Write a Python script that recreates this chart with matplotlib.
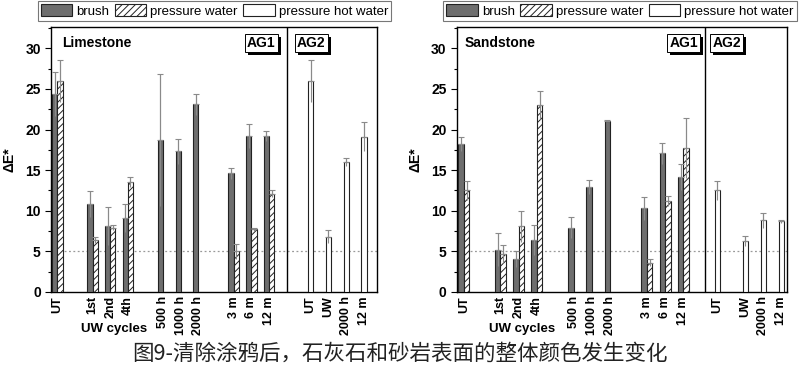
import numpy as np
import matplotlib
matplotlib.use("Agg")
import matplotlib.pyplot as plt
import matplotlib.patheffects as pe
from matplotlib.patches import Patch
from matplotlib.ticker import MultipleLocator

plt.rcParams['font.family'] = ['Liberation Sans', 'Noto Sans CJK SC', 'DejaVu Sans']
plt.rcParams['hatch.linewidth'] = 0.7

nan = np.nan

cats_ag1 = ['UT', '1st', '2nd', '4th', '500 h', '1000 h', '2000 h', '3 m', '6 m', '12 m']
cats_ag2 = ['UT', 'UW', '2000 h', '12 m']

# Limestone
lime_brush = [24.4, 10.8, 8.1, 9.1, 18.7, 17.3, 23.1, 14.6, 19.2, 19.2]
lime_brush_err = [2.7, 1.6, 2.3, 1.7, 8.1, 1.5, 1.3, 0.7, 1.5, 0.6]
lime_pw = [26.0, 6.4, 7.9, 13.5, nan, nan, nan, 5.0, 7.7, 12.1]
lime_pw_err = [2.6, 0.4, 0.3, 0.6, nan, nan, nan, 0.9, 0.2, 0.4]
lime_hw = [26.0, 6.8, 16.0, 19.1]
lime_hw_err = [2.6, 0.8, 0.5, 1.8]

# Sandstone
sand_brush = [18.2, 5.2, 4.1, 6.4, 7.9, 12.9, 21.1, 10.3, 17.1, 14.1]
sand_brush_err = [0.9, 2.0, 1.0, 1.9, 1.3, 0.9, 0.1, 1.4, 1.3, 1.6]
sand_pw = [12.5, 4.7, 8.1, 23.0, nan, nan, nan, 3.6, 11.2, 17.7]
sand_pw_err = [1.2, 1.1, 1.9, 1.7, nan, nan, nan, 0.4, 0.6, 3.7]
sand_hw = [12.5, 6.3, 8.8, 8.7]
sand_hw_err = [1.2, 0.6, 0.9, 0.2]

# layout
pos_ag1 = np.array([0, 2, 3, 4, 6, 7, 8, 10, 11, 12], dtype=float)
w = 0.3
brush_col = '#6e6e6e'
err_col = '#8a8a8a'

fig = plt.figure(figsize=(8, 3.8), dpi=100)


def errs(ax, x, y, e):
    x = np.asarray(x); y = np.asarray(y, float); e = np.asarray(e, float)
    m = ~np.isnan(y)
    ax.vlines(x[m], y[m] - e[m], y[m] + e[m], color=err_col, lw=0.8, zorder=4)
    ax.errorbar(x[m], y[m], yerr=[np.zeros(m.sum()), e[m]], fmt='none',
                ecolor=err_col, elinewidth=0.8, capsize=2.2, capthick=0.8, zorder=4)


def panel(rect, name, brush, brush_e, pw, pw_e, hw, hw_e, pos_ag2, xlim, divider,
          ag1_x, ag2_x, name_x, legend_x):
    ax = fig.add_axes(rect)
    xb = pos_ag1 - w / 2
    xp = pos_ag1 + w / 2
    ax.bar(xb, brush, w, color=brush_col, edgecolor='#222222', lw=0.8, zorder=3)
    ax.bar(xp, pw, w, color='white', edgecolor='#222222', hatch='/////', lw=0.8, zorder=3)
    ax.bar(pos_ag2, hw, w, color='white', edgecolor='#222222', lw=0.8, zorder=3)
    errs(ax, xb, brush, brush_e)
    errs(ax, xp, pw, pw_e)
    errs(ax, pos_ag2, hw, hw_e)

    ax.axhline(5, color='#999999', ls=(0, (1.5, 2)), lw=0.9, zorder=1)
    ax.axvline(divider, color='black', lw=1.0, zorder=5)
    ax.set_xlim(*xlim)
    ax.set_ylim(0, 32.6)
    ax.yaxis.set_major_locator(MultipleLocator(5))
    ax.yaxis.set_minor_locator(MultipleLocator(2.5))
    ax.tick_params(axis='y', which='major', length=4, width=0.8, labelsize=10)
    ax.tick_params(axis='y', which='minor', length=2, width=0.8)
    for lab in ax.get_yticklabels():
        lab.set_fontweight('bold')
    ax.set_xticks(list(pos_ag1) + list(pos_ag2))
    ax.set_xticklabels(cats_ag1 + cats_ag2, rotation=90, fontsize=9, fontweight='bold')
    ax.tick_params(axis='x', length=0, pad=3)
    ax.set_ylabel('ΔE*', fontsize=10, fontweight='bold', labelpad=6)
    for s in ax.spines.values():
        s.set_linewidth(1.0)

    ax.text(name_x, 0.94, name, transform=ax.transAxes, fontsize=10,
            fontweight='bold', va='center', ha='left')
    for lab, xx in (('AG1', ag1_x), ('AG2', ag2_x)):
        t = ax.text(xx, 0.94, lab, transform=ax.transAxes, fontsize=10, fontweight='bold',
                    ha='center', va='center', zorder=6,
                    bbox=dict(boxstyle='square,pad=0.15', fc='white', ec='black', lw=0.7))
        t.get_bbox_patch().set_path_effects(
            [pe.withSimplePatchShadow(offset=(2.2, -2.2), shadow_rgbFace='black', alpha=1)])

    ax.text(3.2, -0.14, 'UW cycles', transform=ax.get_xaxis_transform(),
            fontsize=9.5, fontweight='bold', ha='center', va='center')

    handles = [Patch(fc=brush_col, ec='#222222', lw=0.8, label='brush'),
               Patch(fc='white', ec='#222222', hatch='/////', lw=0.8, label='pressure water'),
               Patch(fc='white', ec='#222222', lw=0.8, label='pressure hot water')]
    leg = fig.legend(handles=handles, loc='upper center', bbox_to_anchor=(legend_x, 0.998),
                     ncol=3, fontsize=9.5, frameon=True, fancybox=False,
                     handlelength=2.4, handleheight=1.05, handletextpad=0.3,
                     columnspacing=0.4, borderpad=0.25, borderaxespad=0)
    leg.get_frame().set_edgecolor('#555555')
    leg.get_frame().set_linewidth(0.8)
    return ax


panel([0.064, 0.2316, 0.407, 0.697], 'Limestone', lime_brush, lime_brush_err,
      lime_pw, lime_pw_err, lime_hw, lime_hw_err,
      pos_ag2=np.array([14.35, 15.36, 16.37, 17.38]), xlim=(-0.34, 18.1), divider=13.03,
      ag1_x=0.645, ag2_x=0.799, name_x=0.034, legend_x=0.268)

panel([0.571, 0.2316, 0.4125, 0.697], 'Sandstone', sand_brush, sand_brush_err,
      sand_pw, sand_pw_err, sand_hw, sand_hw_err,
      pos_ag2=np.array([13.85, 15.38, 16.37, 17.35]), xlim=(-0.38, 17.65), divider=13.2,
      ag1_x=0.688, ag2_x=0.817, name_x=0.024, legend_x=0.775)

fig.text(0.5, 0.07, '图9-清除涂鸦后，石灰石和砂岩表面的整体颜色发生变化',
         family=['Noto Sans CJK SC', 'DejaVu Sans'], fontsize=15.5, ha='center', va='center',
         color='#222222')

fig.savefig('out.png', dpi=100)
